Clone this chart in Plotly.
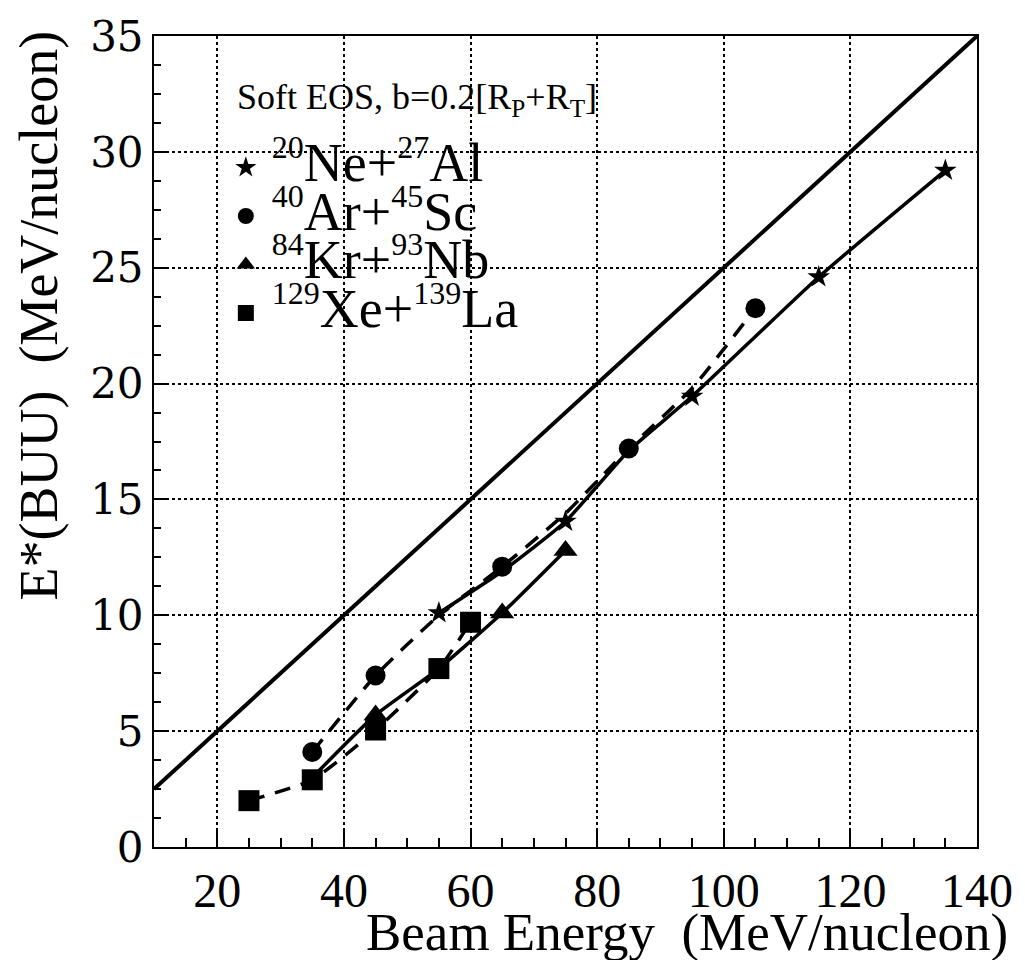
import plotly.graph_objects as go

# Beam energy (MeV/nucleon) and BUU excitation energy E* (MeV/nucleon)
ne_x = [55, 65, 75, 85, 95, 115, 135]
ne_y = [10.1, 11.9, 14.05, 17.1, 19.45, 24.6, 29.2]
ne_marked = [True, False, True, False, True, True, True]

ar_x = [35, 45, 55, 65, 75, 85, 95, 105]
ar_y = [4.1, 7.4, 10.0, 12.1, 14.4, 17.2, 19.8, 23.25]
ar_marked = [True, True, False, True, False, True, False, True]

kr_x = [35, 45, 55, 65, 75]
kr_y = [3.0, 5.7, 7.7, 10.1, 12.8]
kr_marked = [False, True, False, True, True]

xe_x = [25, 35, 45, 55, 60]
xe_y = [2.0, 2.9, 5.05, 7.7, 9.7]
xe_marked = [True, True, True, True, True]

# Reference line E* = E_beam / 4
diag_x = [10, 140]
diag_y = [2.5, 35.0]

x_ticks = [20, 40, 60, 80, 100, 120, 140]
y_ticks = [0, 5, 10, 15, 20, 25, 30, 35]

SERIF = "Liberation Serif"
BLACK = "black"

fig = go.Figure()

fig.add_trace(go.Scatter(x=diag_x, y=diag_y, mode="lines",
                         line=dict(color=BLACK, width=4), showlegend=False,
                         hoverinfo="skip"))


def label(a, sym_a, b, sym_b):
    # large nuclide symbols with mass-number superscripts
    sup = '<sup><span style="font-size:32px">{}</span></sup>'
    return ('<span style="font-size:54px">' + sup.format(a) + sym_a + '+'
            + sup.format(b) + sym_b + '</span>')


def add_series(xs, ys, marked, name, symbol, size, dash):
    fig.add_trace(go.Scatter(x=xs, y=ys, mode="lines",
                             line=dict(color=BLACK, width=3.5, dash=dash,
                                       shape="spline", smoothing=0.5),
                             showlegend=False, hoverinfo="skip"))
    mx = [x for x, m in zip(xs, marked) if m]
    my = [y for y, m in zip(ys, marked) if m]
    fig.add_trace(go.Scatter(x=mx, y=my, mode="markers", name=name,
                             marker=dict(symbol=symbol, size=size, color=BLACK,
                                         line=dict(width=0))))


add_series(xe_x, xe_y, xe_marked, label(129, "Xe", 139, "La"), "square", 21, "16px,11px")
add_series(kr_x, kr_y, kr_marked, label(84, "Kr", 93, "Nb"), "triangle-up", 21, "solid")
add_series(ar_x, ar_y, ar_marked, label(40, "Ar", 45, "Sc"), "circle", 20, "16px,11px")
add_series(ne_x, ne_y, ne_marked, label(20, "Ne", 27, "Al"), "star", 17, "solid")

axis_common = dict(
    showline=True, linecolor=BLACK, linewidth=2, mirror=True,
    showgrid=True, gridcolor=BLACK, gridwidth=1.5, griddash="dot",
    zeroline=False, ticks="inside", tickcolor=BLACK, tickwidth=1.5,
)

fig.update_xaxes(
    range=[10, 140], tickvals=x_ticks, ticktext=[str(v) for v in x_ticks],
    ticklen=18, tickfont=dict(family=SERIF, size=48, color=BLACK),
    minor=dict(ticks="inside", dtick=5, tick0=0, ticklen=9, tickcolor=BLACK,
               tickwidth=1.5, showgrid=False),
    **axis_common,
)
fig.update_yaxes(
    range=[0, 35], tickvals=y_ticks, ticktext=[str(v) for v in y_ticks],
    ticklen=14, tickfont=dict(family="DejaVu Serif", size=42, color=BLACK),
    minor=dict(ticks="inside", dtick=1.25, tick0=0, ticklen=7, tickcolor=BLACK,
               tickwidth=1.5, showgrid=False),
    **axis_common,
)

fig.update_layout(
    width=1025, height=960,
    margin=dict(l=154, r=43, t=25, b=113),
    paper_bgcolor="white", plot_bgcolor="white",
    font=dict(family=SERIF, color=BLACK),
    legend=dict(x=0.080, y=0.906, xanchor="left", yanchor="top",
                bgcolor="rgba(0,0,0,0)", traceorder="reversed",
                title=dict(text="\u00a0", font=dict(family=SERIF, size=20)),
                font=dict(family=SERIF, size=35, color=BLACK),
                itemwidth=42, itemsizing="trace", tracegroupgap=0),
    annotations=[
        dict(text="Soft EOS, b=0.2[R<sub>P</sub>+R<sub>T</sub>]",
             xref="paper", yref="paper", x=0.098, y=0.922,
             xanchor="left", yanchor="middle", showarrow=False,
             font=dict(family=SERIF, size=36, color=BLACK)),
        dict(text="E*(BUU)  (MeV/nucleon)", textangle=-90,
             xref="paper", yref="paper", x=-0.14, y=0.655,
             xanchor="center", yanchor="middle", showarrow=False,
             font=dict(family=SERIF, size=54, color=BLACK)),
        dict(text="Beam Energy  (MeV/nucleon)",
             xref="paper", yref="paper", x=1.04, y=-0.106,
             xanchor="right", yanchor="middle", showarrow=False,
             font=dict(family=SERIF, size=53, color=BLACK)),
    ],
)

fig.write_html("out.html")
